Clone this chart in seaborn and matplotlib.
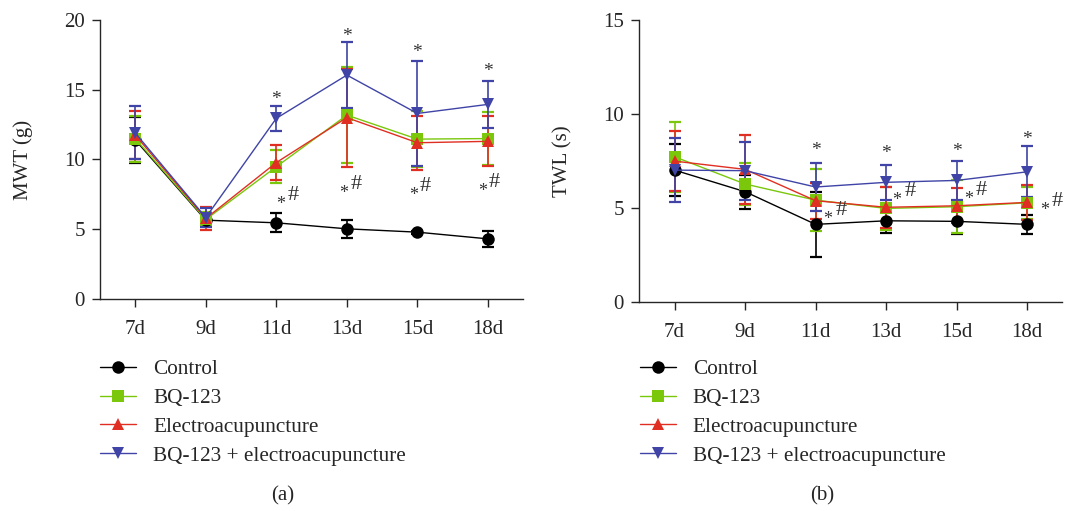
import numpy as np
import pandas as pd
import matplotlib
matplotlib.use('Agg')
import matplotlib.pyplot as plt
import seaborn as sns
from matplotlib.lines import Line2D

# Data
days = ['7d', '9d', '11d', '13d', '15d', '18d']
groups = ['Control', 'BQ-123', 'Electroacupuncture', 'BQ-123 + electroacupuncture']

mwt_control = [11.4, 5.65, 5.46, 5.03, 4.79, 4.31]
mwt_control_sd = [1.65, 0.4, 0.67, 0.65, 0.1, 0.57]
mwt_bq = [11.5, 5.7, 9.48, 13.18, 11.46, 11.5]
mwt_bq_sd = [1.65, 0.5, 1.2, 3.45, 2.0, 1.88]
mwt_ea = [11.75, 5.77, 9.78, 13.0, 11.2, 11.3]
mwt_ea_sd = [1.75, 0.84, 1.28, 3.52, 1.95, 1.8]
mwt_combo = [11.9, 5.84, 12.95, 16.05, 13.3, 13.95]
mwt_combo_sd = [1.9, 0.7, 0.9, 2.35, 3.75, 1.7]

twl_control = [7.01, 5.86, 4.12, 4.31, 4.28, 4.12]
twl_control_sd = [1.4, 0.9, 1.72, 0.67, 0.66, 0.5]
twl_bq = [7.72, 6.27, 5.41, 4.97, 5.06, 5.27]
twl_bq_sd = [1.85, 1.1, 1.64, 1.15, 1.4, 0.85]
twl_ea = [7.49, 7.05, 5.38, 5.03, 5.11, 5.29]
twl_ea_sd = [1.58, 1.83, 0.95, 1.1, 0.93, 0.92]
twl_combo = [7.01, 6.98, 6.11, 6.36, 6.46, 6.92]
twl_combo_sd = [1.7, 1.55, 1.28, 0.94, 1.02, 1.36]

# significance marks: (x index, y value)
mwt_star = [(2, 14.6), (3, 19.1), (4, 18.0), (5, 16.6)]
mwt_pair_star = [(2.06, 7.09), (2.96, 7.85), (3.94, 7.75), (4.92, 8.04)]
mwt_pair_hash = [(2.24, 7.45), (3.13, 8.23), (4.11, 8.04), (5.09, 8.33)]
twl_star = [(2, 8.29), (3, 8.13), (4, 8.25), (5, 8.89)]
twl_pair_star = [(2.17, 4.62), (3.15, 5.63), (4.17, 5.68), (5.24, 5.1)]
twl_pair_hash = [(2.36, 4.88), (3.34, 5.89), (4.35, 5.95), (5.42, 5.33)]

colors = ['#000000', '#7AC70C', '#E02F22', '#3F44A6']
markers = ['o', 's', '^', 'v']

sns.set_theme(style='ticks')
plt.rcParams['font.family'] = ['Liberation Serif', 'DejaVu Serif']
plt.rcParams['axes.linewidth'] = 1.0

fig = plt.figure(figsize=(10.66, 5.11), dpi=100)
ax1 = fig.add_axes([0.0938, 0.4149, 0.397, 0.546])
ax2 = fig.add_axes([0.5997, 0.4096, 0.397, 0.551])


def mark(ax, x, y, s, size):
    # asterisk glyph sits high in the em box, pull it down a bit
    dy = -3.2 if s == '*' else 0
    ax.annotate(s, (x, y), xytext=(0, dy), textcoords='offset points',
                ha='center', va='center', fontsize=size, color='#333333')


def draw_panel(ax, means, sds, ylabel, ymax, step, stars, pstars, phashes):
    rows = []
    for g, vals in zip(groups, means):
        for i, v in enumerate(vals):
            rows.append({'day': i, 'value': v, 'group': g})
    df = pd.DataFrame(rows)
    sns.lineplot(data=df, x='day', y='value', hue='group', style='group',
                 hue_order=groups, style_order=groups, palette=colors,
                 markers=markers, dashes=False, markersize=9,
                 markeredgewidth=0, linewidth=1.0, legend=False, ax=ax)
    for k, (vals, err) in enumerate(zip(means, sds)):
        ax.errorbar(range(len(days)), vals, yerr=err, fmt='none',
                    ecolor=colors[k], elinewidth=1.2, capsize=4.5,
                    capthick=1.6, zorder=1.5 + k * 0.1)
    for x, y in stars:
        mark(ax, x, y, '*', 14)
    for x, y in pstars:
        mark(ax, x, y, '*', 13)
    for x, y in phashes:
        mark(ax, x, y, '#', 16)
    ax.set_xlim(-0.5, 5.5)
    ax.set_ylim(0, ymax)
    ax.set_yticks(np.arange(0, ymax + 0.1, step))
    ax.set_xticks(range(len(days)))
    ax.set_xticklabels(days)
    ax.set_xlabel('')
    ax.set_ylabel(ylabel, fontsize=15, labelpad=22)
    ax.tick_params(labelsize=15, length=6, width=1.0, direction='out')
    ax.tick_params(axis='x', pad=9)
    ax.tick_params(axis='y', pad=5)
    sns.despine(ax=ax)


draw_panel(ax1, [mwt_control, mwt_bq, mwt_ea, mwt_combo],
           [mwt_control_sd, mwt_bq_sd, mwt_ea_sd, mwt_combo_sd],
           'MWT (g)', 20, 5, mwt_star, mwt_pair_star, mwt_pair_hash)
draw_panel(ax2, [twl_control, twl_bq, twl_ea, twl_combo],
           [twl_control_sd, twl_bq_sd, twl_ea_sd, twl_combo_sd],
           'TWL (s)', 15, 5, twl_star, twl_pair_star, twl_pair_hash)

handles = [Line2D([0], [0], color=c, marker=m, markersize=9, linewidth=1.0,
                  markeredgewidth=0) for c, m in zip(colors, markers)]
for x0 in [0.078, 0.584]:
    fig.legend(handles, groups, loc='upper left', bbox_to_anchor=(x0, 0.33),
               frameon=False, fontsize=15.3, handlelength=1.7,
               labelspacing=0.42, handletextpad=0.8, borderpad=0.3)

fig.text(0.2655, 0.02, '(a)', ha='center', fontsize=15)
fig.text(0.771, 0.02, '(b)', ha='center', fontsize=15)

plt.savefig('out.png', dpi=100)
